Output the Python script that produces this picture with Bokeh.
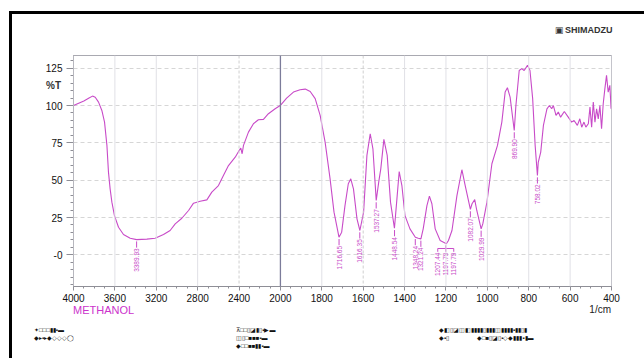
import numpy as np
from html import escape
from bokeh.plotting import figure
from bokeh.models import FixedTicker, Span, GridBox, Div
from bokeh.embed import file_html
from bokeh.resources import INLINE
from bokeh.core.properties import value

# ---------------- data ----------------
wavenumber = [4000, 3950, 3900, 3850, 3816, 3790, 3758, 3726, 3700, 3677, 3662, 3646, 3629,
              3604, 3565, 3517, 3452, 3390, 3291, 3211, 3130, 3066, 3017, 2953, 2888, 2840,
              2776, 2711, 2663, 2599, 2551, 2502, 2437, 2399, 2383, 2370, 2357, 2309, 2261,
              2213, 2164, 2116, 2051, 2002, 1970, 1937, 1905, 1880, 1856, 1832, 1808, 1784,
              1760, 1741, 1717, 1704, 1688, 1672, 1660, 1647, 1630, 1616, 1598, 1582, 1566,
              1553, 1537, 1525, 1515, 1500, 1484, 1468, 1449, 1437, 1426, 1413, 1398, 1374,
              1348, 1334, 1321, 1310, 1292, 1280, 1268, 1252, 1228, 1198, 1188, 1171, 1147,
              1123, 1107, 1082, 1074, 1061, 1051, 1030, 1022, 1002, 978, 951, 930, 914, 903,
              890, 870, 862, 846, 834, 822, 806, 794, 781, 769, 758, 754, 742, 729, 712, 700,
              689, 681, 668, 657, 646, 628, 609, 593, 581, 565, 553, 544, 533, 524, 512, 504,
              496, 488, 480, 472, 464, 456, 448, 440, 432, 424, 416, 408, 402, 400]
transmittance = [100, 101.5, 103, 105, 106.3, 105.5, 102.3, 96.7, 88.9, 73.3, 55.4, 44.2, 35.3,
                 26.3, 18.5, 13.6, 11.1, 10.2, 10.5, 11.1, 13.6, 16.3, 20.7, 24.5, 29.7, 34.6,
                 35.9, 36.8, 42, 46.4, 53.1, 59.8, 65.4, 69.9, 71.5, 67.7, 73.3, 82.2, 87.8,
                 90.5, 90.7, 94.5, 97.8, 100, 105, 109, 110.6, 111, 109.4, 104.6, 93.4, 75.5,
                 50.9, 28.6, 11.8, 15.2, 33, 47.6, 50.9, 44.2, 24.1, 16.3, 28.6, 66.6, 81.1,
                 71, 36.4, 48.7, 57.6, 77.3, 66.6, 35.3, 17.8, 37.5, 55.8, 46.4, 26.3, 17.4,
                 11.8, 11.1, 10.7, 17.4, 33, 39.3, 34.2, 17.4, 9.6, 7.4, 9.6, 16.3, 39.7,
                 57, 46.4, 30.4, 34.2, 37, 29.7, 17.4, 20.7, 35.3, 61, 73.3, 88.9, 109, 111.9,
                 105.6, 83.3, 100, 123.5, 124.7, 123.5, 126.9, 123.5, 104.6, 73.3, 53.1, 62, 68.8, 86.7, 97.8, 100,
                 97.8, 100, 93.4, 95.6, 92.2, 96, 92.2, 88.9, 90, 86.7, 91.1, 85.5, 88.9, 85.5, 87.8, 98.9,
                 85.5, 102.3, 88.9, 97.8, 91.1, 100, 84.4, 101.2, 111.3, 120.2, 109, 113.5, 97.8, 100]

peak_wn = [3389.93, 1716.65, 1616.35, 1537.27, 1448.54, 1348.24, 1321.24, 1082.07, 1029.99, 869.90, 758.02]
peak_t = [10.2, 11.8, 16.3, 36.4, 17.8, 11.8, 10.7, 30.4, 17.4, 83.3, 53.1]
peak_labels = ["3389.93", "1716.65", "1616.35", "1537.27", "1448.54", "1348.24", "1321.24",
               "1082.07", "1029.99", "869.90", "758.02"]
cluster_wn = [1207.44, 1197.79, 1197.79]
cluster_t = 7.4
cluster_labels = ["1207.44", "1197.79", "1197.79"]

x_tick_values = [4000, 3600, 3200, 2800, 2400, 2000, 1800, 1600, 1400, 1200, 1000, 800, 600, 400]
x_tick_labels = ["4000", "3600", "3200", "2800", "2400", "2000", "1800", "1600", "1400",
                 "1200", "1000", "800", "600", "400"]
y_tick_values = [0, 25, 50, 75, 100, 125]
y_tick_labels = ["-0", "25", "50", "75", "100", "125"]
y_title = "%T"
x_title = "1/cm"
sample_name = "METHANOL"
brand = "SHIMADZU"
footer_rows = [
    ["\u2726\u25A1\u25A1\u25A1\u25AE\u25AE\u25AA\u25AC",
     "\u22BC\u25A1\u25A1\u25AF\u25EA\u25AE\u25AF\u25AA\u25B6\u25AC",
     "\u25C6\u25E7\u25AF\u25EA\u25EB\u25E7\u25AE\u25AE\u25AE\u25AE\u25AF\u25AE\u25AE\u25AE\u25EB\u25AE\u25AE\u25AE\u25AE\u25AA\u25AE\u25AE\u25AF\u25AE"],
    ["\u25C6\u25B8\u25AA\u25B8\u25C6\u25C7\u25C7\u25C7\u25EF",
     "\u25EB\u25AF\u25A1\u25A0\u25A0\u25A0\u25AA\u25AC",
     "\u25C6\u25AA\u25AF"],
    ["", "\u25C6\u25A1\u25A1\u25A0\u25A0\u25AE\u25AE\u25AA\u25AC", ""],
]
footer_extra = "\u25C6\u25A1\u25A0\u25AF\u25EA\u25AF\u25AA\u25C7\u25C6\u25AE\u25AE\u25AE\u25AA\u25AE\u25AC"

# Shimadzu abscissa: 400 cm-1 per division above 2000, 200 cm-1 per division below
def to_u(w):
    w = np.asarray(w, dtype=float)
    return np.where(w >= 2000, (4000 - w) / 400.0, 5 + (2000 - w) / 200.0)

W, H = 644, 358
ML, MR, MT, MB = 73, 33, 55, 72
Y0, Y1 = -21.2, 133.5
FW, FH = W - ML - MR, H - MT - MB
XPX = FW / 13.0
YPX = FH / (Y1 - Y0)

FONT = "Liberation Sans"
MAG = "#c84bc8"

p = figure(width=W, height=H, output_backend="svg", toolbar_location=None,
           x_range=(0, 13), y_range=(Y0, Y1),
           min_border_left=ML, min_border_right=MR, min_border_top=MT, min_border_bottom=MB)
p.outline_line_color = "#a9a9b1"

xt = [float(v) for v in to_u(x_tick_values)]
minor_x = [i * 0.25 for i in range(0, 53)]
p.xaxis.ticker = FixedTicker(ticks=xt, minor_ticks=minor_x)
p.xaxis.major_label_overrides = {int(round(u)): lab for u, lab in zip(xt, x_tick_labels)}
p.yaxis.ticker = FixedTicker(ticks=y_tick_values, minor_ticks=list(range(-20, 135, 5)))
p.yaxis.major_label_overrides = {v: lab for v, lab in zip(y_tick_values, y_tick_labels)}

for ax in (p.xaxis[0], p.yaxis[0]):
    ax.axis_line_color = "#8e8e96"
    ax.major_tick_line_color = "#8e8e96"
    ax.minor_tick_line_color = "#8e8e96"
    ax.major_label_text_font = FONT
    ax.major_label_text_font_size = "10px"
    ax.major_label_text_color = "#111111"
    ax.major_tick_in = 0
    ax.minor_tick_in = 0
p.xaxis.major_tick_out = 4
p.xaxis.minor_tick_out = 2
p.xaxis.major_label_standoff = 3
p.yaxis.major_tick_out = 7
p.yaxis.minor_tick_out = 3
p.yaxis.major_label_standoff = 4

p.xgrid.visible = False
p.ygrid.ticker = FixedTicker(ticks=y_tick_values)
p.ygrid.grid_line_color = "#d6d6d6"
p.ygrid.grid_line_dash = "4 3"

for u, lab in zip(xt, x_tick_labels):
    if lab == "2000":
        p.add_layout(Span(location=u, dimension="height", line_color="#7c7c9a", line_width=1.3))
    elif lab in ("2400", "1600"):
        p.add_layout(Span(location=u, dimension="height", line_color="#cfcfcf", line_dash="3 2"))
    else:
        p.add_layout(Span(location=u, dimension="height", line_color="#e0e0e6", line_width=1))

p.line(to_u(wavenumber), transmittance, line_color=MAG, line_width=1.1)

GAP = 8 / YPX
pu_arr = to_u(peak_wn)
pt = np.asarray(peak_t)
p.segment(x0=pu_arr, y0=pt - 1.2, x1=pu_arr, y1=pt - GAP, line_color=MAG, line_width=1)
p.text(x=pu_arr, y=pt - GAP - 0.5, text=peak_labels, angle=np.pi / 2,
       text_align="right", text_baseline="middle", text_font=value(FONT),
       text_font_size="6.5px", text_color=MAG)

uc = float(np.mean(to_u(cluster_wn)))
off = 8 / XPX
cx = [uc - off, uc, uc + off]
yb = cluster_t - 4.7 / YPX
yd = cluster_t - 8 / YPX
p.segment(x0=[uc], y0=[cluster_t - 1], x1=[uc], y1=[yb], line_color=MAG)
p.segment(x0=[cx[0]], y0=[yb], x1=[cx[2]], y1=[yb], line_color=MAG)
p.segment(x0=cx, y0=[yb] * 3, x1=cx, y1=[yd] * 3, line_color=MAG)
p.text(x=cx, y=[yd - 0.5] * 3, text=cluster_labels, angle=np.pi / 2,
       text_align="right", text_baseline="middle", text_font=value(FONT),
       text_font_size="6.5px", text_color=MAG)

# ---------------- page decoration (report frame, captions, header, footer) ----------------
def svg_text(x, y, t, size, color="#222222", anchor="start", weight="normal", font=FONT):
    return (f'<text x="{x}" y="{y}" font-family="{font}" font-size="{size}" fill="{color}" '
            f'text-anchor="{anchor}" dominant-baseline="central" font-weight="{weight}">'
            f'{escape(t)}</text>')

parts = [
    f'<polyline points="10.5,{H} 10.5,12.5 {W},12.5" fill="none" stroke="black" stroke-width="3"/>',
    svg_text(61, 85, y_title, 10, color="#333333", anchor="end", weight="bold"),
    svg_text(73, 309.5, sample_name, 11, color="#cc33cc"),
    svg_text(611, 309.5, x_title, 10, anchor="end"),
    svg_text(555, 30, "\u25A3", 9, color="#333333", font="DejaVu Sans"),
    svg_text(565, 30, brand, 9, color="#333333", weight="bold"),
]
cols_x = [34, 236, 439]
rows_y = [330, 338, 345.5]
for r, row in enumerate(footer_rows):
    for c, s in enumerate(row):
        if s:
            parts.append(svg_text(cols_x[c], rows_y[r], s, 6, color="#111111", font="DejaVu Sans"))
parts.append(svg_text(477, rows_y[1], footer_extra, 6, color="#111111", font="DejaVu Sans"))

svg = (f'<svg xmlns="http://www.w3.org/2000/svg" width="{W}" height="{H}" '
       f'viewBox="0 0 {W} {H}" style="display:block;overflow:hidden;pointer-events:none">'
       + "".join(parts) + '</svg>')
deco = Div(text=svg, width=W, height=H, margin=0,
           styles={"pointer-events": "none", "overflow": "hidden"})

layout = GridBox(children=[(p, 0, 0), (deco, 0, 0)], styles={"overflow": "hidden"})
open("out.html", "w").write(file_html(layout, INLINE))
